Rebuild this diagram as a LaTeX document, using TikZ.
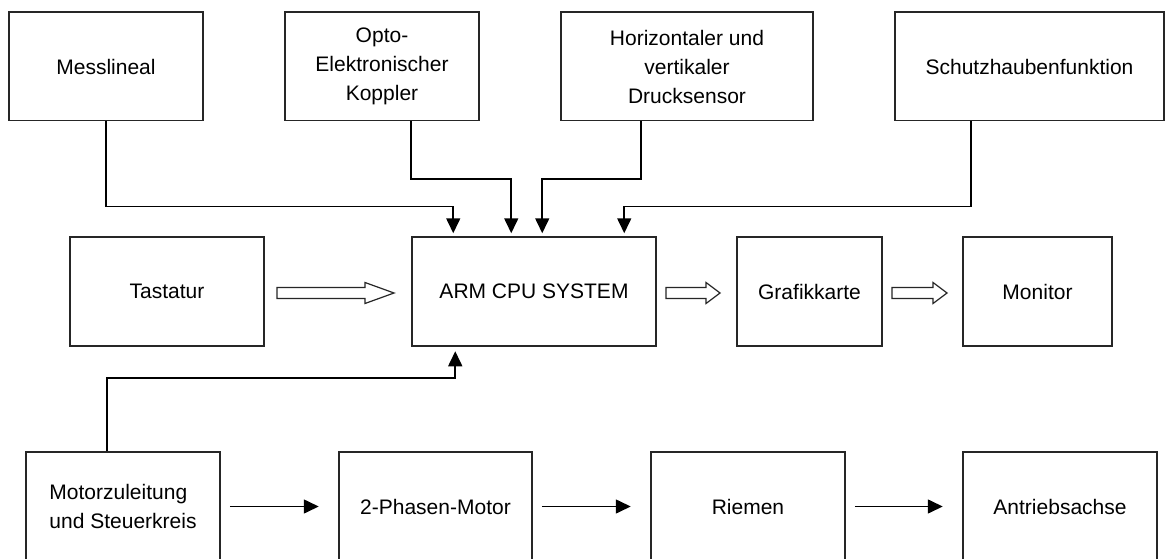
\documentclass[tikz,border=0pt]{standalone}
\usepackage{fontspec}
\setmainfont{Liberation Sans}
\usetikzlibrary{arrows.meta}
\tikzset{
  box/.style={draw=black!85, line width=1.5pt, inner sep=0pt, align=center,
    font=\fontsize{21}{29}\selectfont, minimum height=108.5pt},
  arr/.style={draw=black, line width=1.6pt, -{Triangle[length=15pt,width=14pt]}},
  hollow/.style={draw=black!85, line width=1.2pt, fill=white, line join=miter}
}
\newcommand\hollowarr[4]{%
  \draw[hollow] (#1,{#4-5.5}) -- (#3,{#4-5.5}) -- (#3,{#4-10.5}) -- (#2,#4)
    -- (#3,{#4+10.5}) -- (#3,{#4+5.5}) -- (#1,{#4+5.5}) -- cycle;}
\begin{document}
\begin{tikzpicture}[x=1pt,y=-1pt]
\useasboundingbox (0,0) rectangle (1165,559);
\clip (0,0) rectangle (1165,559);
\fill[white] (0,0) rectangle (1165,559);
% top row
\node[box, minimum width=194pt] (mess) at (106,66.5) {Messlineal};
\node[box, minimum width=194pt] (opto) at (382,66.5) {Opto-\\Elektronischer\\Koppler};
\node[box, minimum width=252pt] (horiz) at (687,66.5) {Horizontaler und\\vertikaler\\Drucksensor};
\node[box, minimum width=269pt] (schutz) at (1029.5,66.5) {Schutzhaubenfunktion};
% middle row
\node[box, minimum width=194pt, minimum height=109pt] (tast) at (167,291.5) {Tastatur};
\node[box, minimum width=244pt, minimum height=109pt] (cpu) at (534,291.5) {ARM CPU SYSTEM};
\node[box, minimum width=145pt, minimum height=109pt] (grafik) at (809.5,291.5) {Grafikkarte};
\node[box, minimum width=149pt, minimum height=109pt] (monitor) at (1037.5,291.5) {Monitor};
% bottom row
\node[box, minimum width=194pt, minimum height=109pt, align=left] (motor) at (123,506.5) {Motorzuleitung\\und Steuerkreis};
\node[box, minimum width=193pt, minimum height=109pt] (phase) at (435.5,506.5) {2-Phasen-Motor};
\node[box, minimum width=194pt, minimum height=109pt] (riemen) at (748,506.5) {Riemen};
\node[box, minimum width=194pt, minimum height=109pt] (antrieb) at (1060,506.5) {Antriebsachse};
% connectors into CPU
\draw[arr, shorten >=3pt] (mess.south) -- ++(0,85) -| ([xshift=42pt]cpu.north west);
\draw[arr, shorten >=3pt] ([xshift=127pt]opto.south west) -- ++(0,57.3) -| ([xshift=100pt]cpu.north west);
\draw[arr, shorten >=3pt] ([xshift=81pt]horiz.south west) -- ++(0,57.3) -| ([xshift=131pt]cpu.north west);
\draw[arr, shorten >=3pt] ([xshift=77pt]schutz.south west) -- ++(0,85) -| ([xshift=213pt]cpu.north west);
\draw[arr, shorten >=4.5pt] ([xshift=82pt]motor.north west) -- ++(0,-73) -| ([xshift=44pt]cpu.south west);
% bottom chain
\draw[arr, shorten <=9pt, shorten >=19.5pt] (motor) -- (phase);
\draw[arr, shorten <=9pt, shorten >=19.5pt] (phase) -- (riemen);
\draw[arr, shorten <=9pt, shorten >=19.5pt] (riemen) -- (antrieb);
% hollow block arrows
\hollowarr{277}{394}{365}{293}
\hollowarr{666}{720}{706}{293}
\hollowarr{892}{947}{933}{293}
\end{tikzpicture}
\end{document}
